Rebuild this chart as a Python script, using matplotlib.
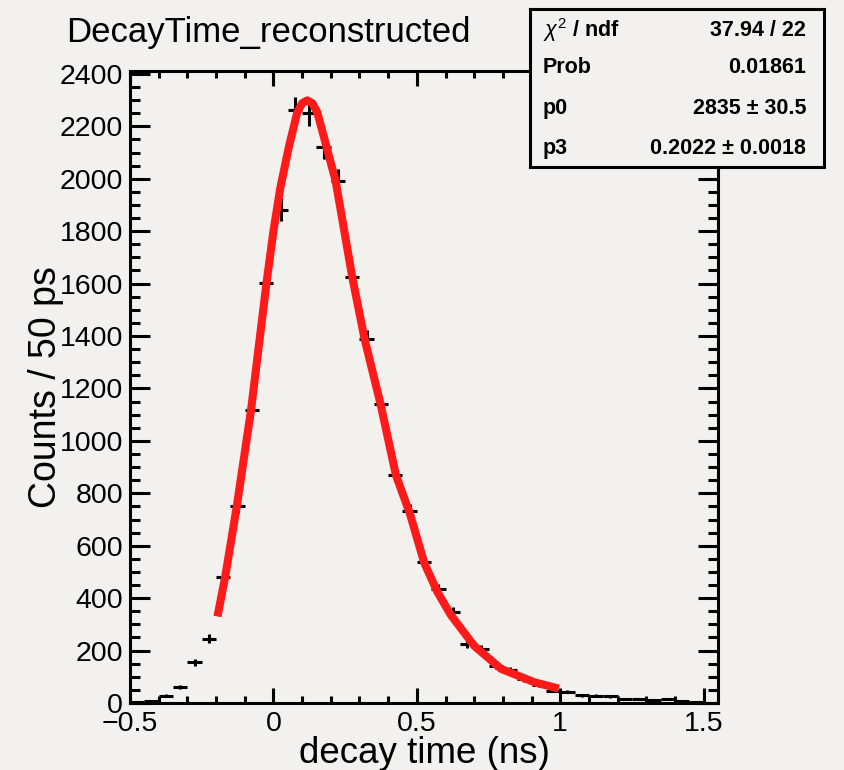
import numpy as np
import matplotlib
matplotlib.use("Agg")
import matplotlib.pyplot as plt
from matplotlib.ticker import MultipleLocator

plt.rcParams["font.family"] = ["Liberation Sans", "DejaVu Sans"]
plt.rcParams["mathtext.fontset"] = "custom"
plt.rcParams["mathtext.rm"] = "Liberation Sans"
plt.rcParams["mathtext.it"] = "Liberation Sans:italic"

BG = "#f3f1ed"

# ── histogram: 50 ps bins from -0.5 to 1.55 ns ────────────────────────────────
bin_lo = np.round(np.arange(-0.5, 1.55, 0.05), 3)
bin_w = 0.05
counts = [3, 9, 28, 60, 155, 246, 479, 752, 1116, 1603,
          1882, 2263, 2250, 2121, 1992, 1625, 1387, 1139, 871, 732,
          536, 434, 346, 226, 206, 142, 127, 91, 69, 47,
          43, 30, 28, 26, 16, 15, 13, 14, 9, 3,
          0]

# ── fit curve ─────────────────────────────────────────────────────────────────
fit_t = [-0.195, -0.168, -0.127, -0.078, -0.051, -0.024, 0.001, 0.024,
         0.054, 0.083, 0.100, 0.118, 0.136, 0.153, 0.182, 0.217, 0.275,
         0.318, 0.374, 0.427, 0.477, 0.526, 0.572, 0.619, 0.700, 0.794,
         0.910, 0.995]
fit_y = [330, 482, 755, 1118, 1361, 1604, 1807, 1965,
         2122, 2253, 2288, 2299, 2288, 2253, 2135, 1991, 1624,
         1388, 1138, 870, 718, 534, 423, 335, 218, 130,
         79, 55]

stats_keys = [r"$\chi^{2}$ / ndf", "Prob", "p0", "p3"]
stats_vals = ["37.94 / 22", "0.01861", "2835 \u00b1 30.5", "0.2022 \u00b1 0.0018"]

W, H = 844, 770
fig = plt.figure(figsize=(W / 100, H / 100), dpi=100, facecolor=BG)
ax = fig.add_axes([130 / W, 1 - 703 / H, (718 - 130) / W, (703 - 71) / H])
ax.set_facecolor(BG)

counts = np.array(counts, dtype=float)
centers = bin_lo + bin_w / 2
ax.errorbar(centers, counts, xerr=bin_w / 2, yerr=np.sqrt(counts),
            fmt="none", ecolor="black", elinewidth=2.2, capsize=0, zorder=2)
ax.plot(fit_t, fit_y, color="#ff1a1a", lw=5.8, solid_capstyle="butt",
        solid_joinstyle="round", zorder=3)

ax.set_xlim(-0.5, 1.55)
ax.set_ylim(0, 2411)
ax.xaxis.set_minor_locator(MultipleLocator(0.1))
ax.yaxis.set_major_locator(MultipleLocator(200))
ax.yaxis.set_minor_locator(MultipleLocator(50))
ax.set_xticks([-0.5, 0, 0.5, 1, 1.5])
ax.set_xticklabels(["\u22120.5", "0", "0.5", "1", "1.5"])

for s in ax.spines.values():
    s.set_linewidth(2.2)
ax.xaxis.set_tick_params(which="major", direction="in", top=True, length=10.8, width=2.2,
                         labelsize=20.5, pad=6)
ax.xaxis.set_tick_params(which="minor", direction="in", top=True, length=5, width=2.2)
ax.yaxis.set_tick_params(which="major", direction="in", right=True, length=14.4, width=2.2,
                         labelsize=20.5, pad=5)
ax.yaxis.set_tick_params(which="minor", direction="in", right=True, length=7.2, width=2.2)

ax.set_xlabel("decay time (ns)", fontsize=26.5)
ax.set_ylabel("Counts / 50 ps", fontsize=27)
ax.xaxis.set_label_coords(0.5, -0.053)
ax.yaxis.set_label_coords(-0.112, 0.5)

fig.text(66 / W, 1 - 42 / H, "DecayTime_reconstructed", fontsize=25,
         ha="left", va="baseline")

# ── stats box ─────────────────────────────────────────────────────────────────
bx = fig.add_axes([530 / W, 1 - 167 / H, (824 - 530) / W, (167 - 9) / H])
bx.set_facecolor(BG)
bx.set_xticks([])
bx.set_yticks([])
for s in bx.spines.values():
    s.set_linewidth(2.2)
rows = [0.867, 0.627, 0.373, 0.12]
for yy, k, v in zip(rows, stats_keys, stats_vals):
    bx.text(0.044, yy, k, fontsize=15.5, fontweight="bold", ha="left", va="center",
            transform=bx.transAxes)
    bx.text(0.939, yy, v, fontsize=15.5, fontweight="bold", ha="right", va="center",
            transform=bx.transAxes)

fig.savefig("out.png", dpi=100, facecolor=BG)
